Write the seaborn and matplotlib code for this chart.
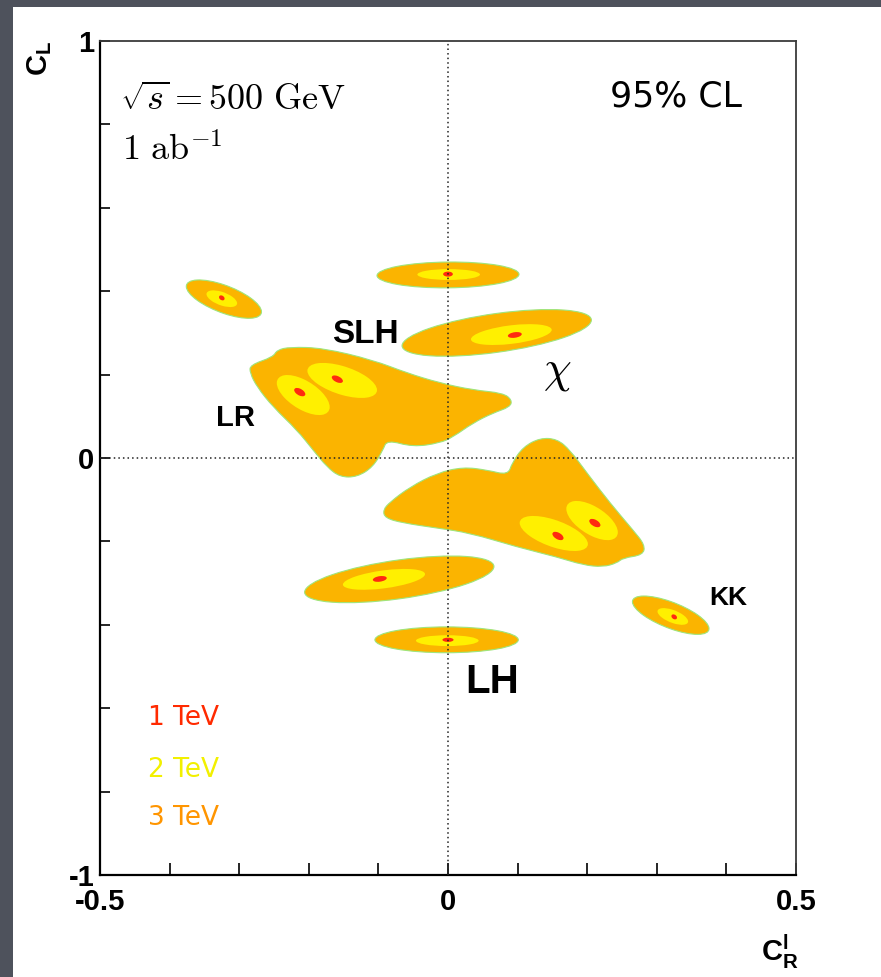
import matplotlib
matplotlib.use('Agg')
import matplotlib.pyplot as plt
import seaborn as sns
import numpy as np
from matplotlib.patches import Circle, Rectangle, PathPatch
from matplotlib.path import Path
from matplotlib.transforms import Affine2D

# ---------------------------------------------------------------------------
# data: 95% CL regions in the (c_R^l, c_L) plane, one entry per Z' model
# each ellipse = (centre x, centre y, half-extent x, half-extent y, correlation)
# ---------------------------------------------------------------------------
masses = ['1 TeV', '2 TeV', '3 TeV']
fill_colors = {'3 TeV': '#fbb400', '2 TeV': '#fff000', '1 TeV': '#ff2a10'}
label_colors = {'1 TeV': '#ff2a00', '2 TeV': '#f2f000', '3 TeV': '#ff9500'}

ellipses_3tev = [
    (-0.322, 0.381, 0.054, 0.046, -0.66),
    (0.000, 0.439, 0.102, 0.031, 0.05),
    (0.070, 0.300, 0.136, 0.056, 0.55),
    (-0.070, -0.291, 0.136, 0.056, 0.55),
    (-0.002, -0.436, 0.103, 0.031, 0.00),
    (0.320, -0.377, 0.055, 0.046, -0.70),
]

ellipses_2tev = [
    (-0.325, 0.382, 0.022, 0.020, -0.55),
    (0.001, 0.440, 0.045, 0.013, 0.00),
    (0.091, 0.296, 0.058, 0.025, 0.45),
    (-0.208, 0.151, 0.038, 0.048, -0.60),
    (-0.152, 0.186, 0.050, 0.042, -0.55),
    (0.152, -0.181, 0.049, 0.042, -0.60),
    (0.207, -0.150, 0.037, 0.047, -0.60),
    (-0.092, -0.291, 0.059, 0.025, 0.50),
    (-0.001, -0.438, 0.045, 0.013, 0.00),
    (0.323, -0.380, 0.022, 0.020, -0.60),
]

ellipses_1tev = [
    (-0.325, 0.384, 0.004, 0.006, -0.3),
    (0.000, 0.441, 0.007, 0.006, 0.0),
    (0.096, 0.295, 0.010, 0.007, 0.3),
    (-0.213, 0.158, 0.008, 0.010, -0.5),
    (-0.159, 0.189, 0.008, 0.009, -0.5),
    (0.158, -0.187, 0.008, 0.010, -0.5),
    (0.211, -0.156, 0.008, 0.010, -0.5),
    (-0.098, -0.290, 0.010, 0.007, 0.3),
    (0.000, -0.436, 0.008, 0.005, 0.0),
    (0.325, -0.381, 0.004, 0.006, -0.3),
]

# merged 3 TeV regions (LR/SLH and their mirror), outlines
lr_blob_x = [-0.2845, -0.2514, -0.2457, -0.2270, -0.1796, -0.1078, -0.0589, -0.0115,
             0.0359, 0.0790, 0.0920, 0.0891, 0.0647, 0.0359, 0.0072, -0.0115,
             -0.0503, -0.0876, -0.0934, -0.1078, -0.1307, -0.1552, -0.1739, -0.1940,
             -0.2170, -0.2514, -0.2744, -0.2845]
lr_blob_y = [0.2230, 0.2422, 0.2590, 0.2662, 0.2638, 0.2350, 0.2038, 0.1799,
             0.1631, 0.1559, 0.1391, 0.1223, 0.1079, 0.0839, 0.0504, 0.0360,
             0.0264, 0.0432, 0.0192, -0.0216, -0.0456, -0.0456, -0.0216, 0.0192,
             0.0671, 0.1223, 0.1703, 0.2038]

rb_blob_x = [-0.0934, -0.0833, -0.0546, -0.0158, 0.0216, 0.0560, 0.0862, 0.0920,
             0.1078, 0.1322, 0.1566, 0.1753, 0.1997, 0.2328, 0.2658, 0.2830,
             0.2802, 0.2514, 0.2428, 0.2227, 0.1940, 0.1566, 0.0991, 0.0316,
             -0.0158, -0.0647, -0.0905]
rb_blob_y = [-0.1247, -0.1055, -0.0695, -0.0360, -0.0216, -0.0288, -0.0408, -0.0120,
             0.0264, 0.0480, 0.0456, 0.0192, -0.0360, -0.1079, -0.1727, -0.2086,
             -0.2326, -0.2398, -0.2518, -0.2614, -0.2566, -0.2374, -0.2134, -0.1799,
             -0.1679, -0.1559, -0.1439]

model_names = ['SLH', 'LR', 'LH', 'KK']
model_x = [-0.119, -0.306, 0.063, 0.402]
model_y = [0.297, 0.096, -0.537, -0.336]
model_size = [24, 21, 29, 19]

x_major = [-0.5, 0, 0.5]
x_minor = [-0.4, -0.3, -0.2, -0.1, 0.1, 0.2, 0.3, 0.4]
y_major = [-1, 0, 1]
y_minor = [-0.8, -0.6, -0.4, -0.2, 0.2, 0.4, 0.6, 0.8]


def add_ellipse(ax, cx, cy, sx, sy, rho, color, edge='none', z=2):
    # unit circle mapped onto the ellipse with the given extents / correlation
    m = Affine2D.from_values(sx, sy * rho, 0, sy * np.sqrt(1 - rho ** 2), cx, cy)
    ax.add_patch(Circle((0, 0), 1, transform=m + ax.transData, fc=color,
                        ec=edge, lw=0.8, zorder=z))


def add_blob(ax, xs, ys, color, edge='none', z=2):
    pts = np.column_stack([xs, ys])
    mids = (pts + np.roll(pts, -1, axis=0)) / 2
    verts = [mids[-1]]
    codes = [Path.MOVETO]
    for p, q in zip(pts, mids):
        verts += [p, q]
        codes += [Path.CURVE3, Path.CURVE3]
    ax.add_patch(PathPatch(Path(verts, codes), fc=color, ec=edge, lw=0.8, zorder=z))


sns.set_theme(style='white')
plt.rcParams['font.family'] = ['Liberation Sans', 'DejaVu Sans']
plt.rcParams['text.color'] = 'black'
plt.rcParams['mathtext.fontset'] = 'custom'
plt.rcParams['mathtext.rm'] = 'Liberation Sans:bold'
plt.rcParams['mathtext.it'] = 'Liberation Sans:bold'
plt.rcParams['mathtext.bf'] = 'Liberation Sans:bold'

fig = plt.figure(figsize=(8.81, 9.77), dpi=100, facecolor='#4e525c')
fig.patches.append(Rectangle((13 / 881, 0), 1 - 13 / 881, 1 - 7 / 977,
                             transform=fig.transFigure, fc='white', ec='none', zorder=-10))
ax = fig.add_axes([100 / 881, 102 / 977, 696 / 881, 834 / 977])
ax.set_facecolor('white')
ax.set_xlim(-0.5, 0.5)
ax.set_ylim(-1, 1)

green = '#9fe57c'
for e in ellipses_3tev:
    add_ellipse(ax, *e, fill_colors['3 TeV'], edge=green, z=2)
add_blob(ax, lr_blob_x, lr_blob_y, fill_colors['3 TeV'], edge=green, z=2)
add_blob(ax, rb_blob_x, rb_blob_y, fill_colors['3 TeV'], edge=green, z=2)
for e in ellipses_2tev:
    add_ellipse(ax, *e, fill_colors['2 TeV'], z=3)
for e in ellipses_1tev:
    add_ellipse(ax, *e, fill_colors['1 TeV'], z=4)

ax.axhline(0, color='#222222', ls=(0, (1, 2)), lw=1.1, zorder=5)
ax.axvline(0, color='#222222', ls=(0, (1, 2)), lw=1.1, zorder=5)

# axes in ROOT style
ax.set_xticks(x_major)
ax.set_xticks(x_minor, minor=True)
ax.set_yticks(y_major)
ax.set_yticks(y_minor, minor=True)
ax.set_xticklabels(['-0.5', '0', '0.5'])
ax.set_yticklabels(['-1', '0', '1'])
ax.tick_params(axis='x', which='both', direction='in', length=9, width=1.2,
               color='black', bottom=True, top=False, pad=9)
ax.tick_params(axis='y', which='both', direction='in', length=7.5, width=1.2,
               color='black', left=True, right=False, pad=4)
for lab in ax.get_xticklabels() + ax.get_yticklabels():
    lab.set_fontsize(21)
    lab.set_fontweight('bold')
    lab.set_color('black')
for side in ['left', 'bottom']:
    ax.spines[side].set_color('black')
    ax.spines[side].set_linewidth(1.6)
for side in ['top', 'right']:
    ax.spines[side].set_color('#3a3a3a')
    ax.spines[side].set_linewidth(1.3)

fig.text(40 / 881, 1 - 58 / 977, r'$\mathrm{C_L}$', rotation=90, fontsize=21,
         ha='center', va='center', color='black')
fig.text(780 / 881, 1 - 952 / 977, r'$\mathrm{C_R^l}$', fontsize=21,
         ha='center', va='center', color='black')

ax.text(0.029, 0.929, r'$\sqrt{s} = 500\ \mathrm{GeV}$', transform=ax.transAxes,
        fontsize=26, math_fontfamily='cm', ha='left', va='center', color='black')
ax.text(0.031, 0.868, r'$1\ \mathrm{ab}^{-1}$', transform=ax.transAxes,
        fontsize=26, math_fontfamily='cm', ha='left', va='center', color='black')
ax.text(0.733, 0.933, '95% CL', transform=ax.transAxes, fontsize=25,
        family='DejaVu Sans', ha='left', va='center', color='black')

for name, x, y, s in zip(model_names, model_x, model_y, model_size):
    ax.text(x, y, name, fontsize=s, fontweight='bold', ha='center', va='center',
            color='black', zorder=6)
ax.text(0.157, 0.204, r'$\chi$', fontsize=32, math_fontfamily='cm',
        ha='center', va='center', color='black', zorder=6)

legend_y = [0.188, 0.126, 0.068]
for m, y in zip(masses, legend_y):
    ax.text(0.069, y, m, transform=ax.transAxes, fontsize=19, family='DejaVu Sans',
            color=label_colors[m], ha='left', va='center')

fig.savefig('out.png', dpi=100, facecolor=fig.get_facecolor())
